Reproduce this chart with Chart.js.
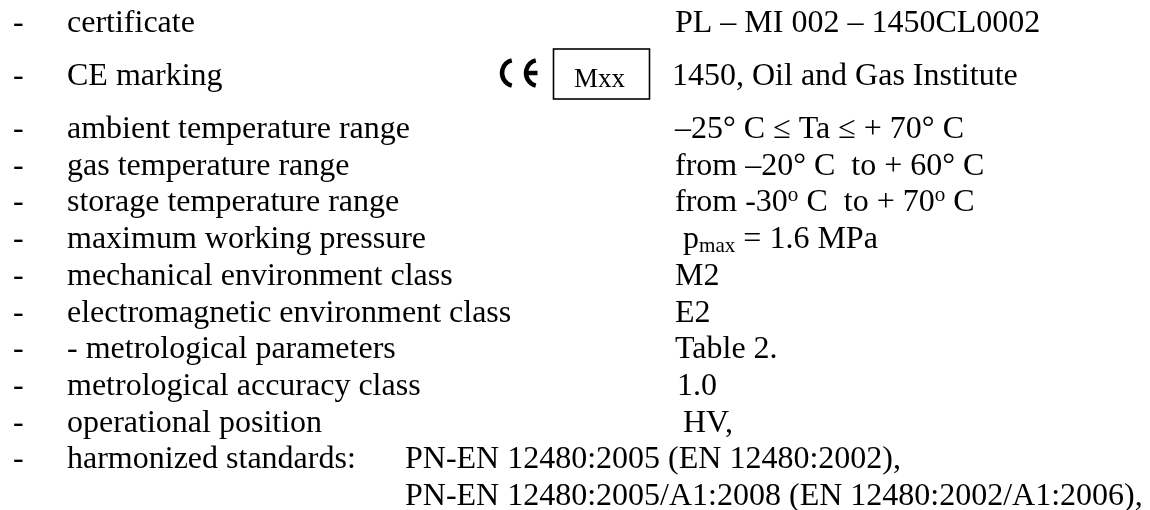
<!DOCTYPE html>
<html>
<head>
<meta charset="utf-8">
<script src="https://cdn.jsdelivr.net/npm/chart.js@4.4.1/dist/chart.umd.min.js"></script>
<style>
  html, body { margin: 0; padding: 0; background: #fff; }
  #wrap { width: 1150px; height: 510px; }
</style>
</head>
<body>
<div id="wrap"><canvas id="docChart" width="1150" height="510"></canvas></div>
<script>
// rows of the spec sheet: left column, right column
const rowLabels = [
    'certificate',
    'CE marking',
    'ambient temperature range',
    'gas temperature range',
    'storage temperature range',
    'maximum working pressure',
    'mechanical environment class',
    'electromagnetic environment class',
    '- metrological parameters',
    'metrological accuracy class',
    'operational position',
    'harmonized standards:',
    ''
];
const rowValues = [
    'PL – MI 002 – 1450CL0002',
    '1450, Oil and Gas Institute',
    '–25° C ≤ Ta ≤ + 70° C',
    'from –20° C  to + 60° C',
    'from -30^{o} C  to + 70^{o} C',
    ' p_{max} = 1.6 MPa',
    'M2',
    'E2',
    'Table 2.',
    '1.0',
    ' HV,',
    'PN-EN 12480:2005 (EN 12480:2002),',
    'PN-EN 12480:2005/A1:2008 (EN 12480:2002/A1:2006),'
];
const ceBoxText = 'Mxx';
const rowIndex = rowLabels.map((l, i) => i);

const FONT = '"Liberation Serif", "Times New Roman", serif';

// draws text with ^{sup} and _{sub} parts
function drawRich(ctx, str, x, y, size) {
    const parts = str.split(/(\^\{[^}]*\}|_\{[^}]*\})/);
    parts.forEach(p => {
        if (!p) return;
        let s = size, dy = 0, t = p;
        if (p.startsWith('^{')) { t = p.slice(2, -1); s = size * 0.66; dy = -size * 0.32; }
        else if (p.startsWith('_{')) { t = p.slice(2, -1); s = size * 0.66; dy = size * 0.12; }
        ctx.font = s + 'px ' + FONT;
        ctx.fillText(t, x, y + dy);
        x += ctx.measureText(t).width;
    });
}

// CE conformity mark, two arcs and the E bar
function drawCE(ctx, x, cy, r, lw) {
    ctx.save();
    ctx.lineWidth = lw;
    ctx.strokeStyle = '#000';
    ctx.lineCap = 'butt';
    ctx.beginPath();
    ctx.arc(x, cy, r, Math.PI * 0.58, Math.PI * 1.42);
    ctx.stroke();
    const ex = x + 24;
    ctx.beginPath();
    ctx.arc(ex, cy, r, Math.PI * 0.58, Math.PI * 1.42);
    ctx.stroke();
    ctx.beginPath();
    ctx.moveTo(ex - r, cy);
    ctx.lineTo(ex - 1.5, cy);
    ctx.stroke();
    ctx.restore();
}

const docText = {
    id: 'docText',
    afterDraw(chart, args, opts) {
        const ctx = chart.ctx;
        const xs = chart.scales.x, ys = chart.scales.y;
        ctx.save();
        ctx.fillStyle = '#000';
        ctx.textBaseline = 'alphabetic';
        ctx.textAlign = 'left';
        let extra = 0;
        rowIndex.forEach(i => {
            extra += opts.gapBefore[i] || 0;
            const by = ys.getPixelForValue(i) + extra;
            ctx.font = opts.size + 'px ' + FONT;
            if (rowLabels[i] !== '') {
                ctx.fillText('-', xs.getPixelForValue(opts.dashX), by);
                ctx.fillText(rowLabels[i], xs.getPixelForValue(opts.labelX), by);
            }
            const vx = opts.valueX[i] !== undefined ? opts.valueX[i] : opts.valueX.def;
            drawRich(ctx, rowValues[i], xs.getPixelForValue(vx), by, opts.size);

            if (i === 1) {
                drawCE(ctx, xs.getPixelForValue(515), by - 12, 13, 4.5);
                ctx.lineWidth = 1.6;
                ctx.strokeRect(xs.getPixelForValue(553.5), by - 36, 96, 50);
                ctx.font = opts.boxSize + 'px ' + FONT;
                ctx.fillText(ceBoxText, xs.getPixelForValue(574), by + 2);
            }
        });
        ctx.restore();
    }
};

new Chart(document.getElementById('docChart'), {
    type: 'scatter',
    data: { datasets: [{ data: [] }] },
    options: {
        responsive: false,
        animation: false,
        devicePixelRatio: 1,
        layout: { padding: { top: 32, bottom: 37.6, left: 0, right: 0 } },
        scales: {
            x: { type: 'linear', min: 0, max: 1150, display: false },
            y: { type: 'linear', min: 0, max: rowLabels.length - 1, reverse: true, display: false }
        },
        plugins: {
            legend: { display: false },
            tooltip: { enabled: false },
            docText: {
                size: 32,
                boxSize: 27,
                dashX: 13,
                labelX: 67,
                valueX: { def: 675, 1: 672, 9: 677, 11: 405, 12: 405 },
                gapBefore: { 1: 16.3, 2: 16.3 }
            }
        }
    },
    plugins: [docText]
});
</script>
</body>
</html>
